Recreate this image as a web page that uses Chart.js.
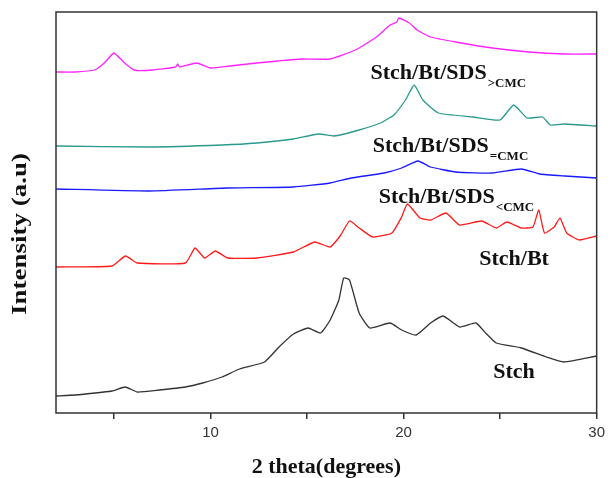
<!DOCTYPE html>
<html>
<head>
<meta charset="utf-8">
<script src="https://cdn.jsdelivr.net/npm/chart.js@4.4.1/dist/chart.umd.min.js"></script>
<style>
  html, body { margin: 0; padding: 0; background: #fff; }
  canvas { display: block; }
</style>
</head>
<body>
<canvas id="xrdChart" width="610" height="478"></canvas>
<script>
// 2 theta (degrees) / relative intensity (a.u.)
const stchX = [2, 3.0, 4.9, 5.6, 6.2, 7.35, 8.7, 9.6, 10.6, 11.5, 12.8, 13.55, 14.3, 15.05, 15.7, 16.2, 16.65, 16.9, 17.2, 17.7, 18.25, 19.3, 19.9, 20.65, 21.4, 22.05, 22.9, 23.75, 24.2, 24.8, 26.1, 27.4, 28.3, 30];
const stchY = [0, 1, 5, 9, 4, 6, 9, 13, 19, 27, 34, 49, 62, 68, 63, 76, 96, 118, 116, 83, 68, 73, 66, 61, 73, 80, 69, 73, 64, 53, 48, 39, 34, 40];

const stchBtX = [2, 4.9, 5.6, 6.2, 8.7, 9.2, 9.7, 10.25, 10.9, 12.4, 14.3, 15.4, 16.2, 16.75, 17.2, 17.7, 18.4, 19.4, 19.9, 20.2, 20.85, 21.4, 22.2, 22.9, 24.05, 24.8, 25.35, 26.1, 26.7, 27.0, 27.3, 27.8, 28.1, 28.45, 29.1, 30];
const stchBtY = [0, 1, 11, 4, 4, 19, 9, 16, 9, 9, 15, 25, 20, 32, 46, 39, 30, 34, 50, 63, 49, 47, 54, 42, 46, 39, 45, 39, 40, 57, 34, 40, 49, 34, 27, 31];

const sdsLowX = [2, 6.8, 10.9, 14.3, 16.2, 17.3, 19.0, 19.9, 20.75, 21.4, 22.7, 24.6, 26.1, 27.05, 28.35, 30];
const sdsLowY = [0, -2, 1, 2, 6, 11, 16, 21, 28, 22, 17, 16, 20, 15, 13, 11];

const sdsEqX = [2, 6.8, 10.6, 12.4, 14.3, 15.6, 16.4, 17.7, 18.8, 19.5, 20.1, 20.55, 21.0, 21.8, 23.6, 25.0, 25.7, 26.4, 27.2, 27.6, 28.35, 30];
const sdsEqY = [0, -1, 1, 3, 7, 12, 10, 16, 23, 31, 46, 61, 46, 33, 29, 26, 41, 28, 29, 21, 22, 20];

const sdsHighX = [2, 3, 4, 4.5, 5.0, 5.5, 6.05, 7, 8.2, 8.3, 8.4, 9.3, 10.0, 11, 12.4, 13.5, 14.7, 16.2, 17.5, 18.6, 19.3, 19.65, 19.75, 20.3, 20.7, 21.4, 22.7, 24.6, 26.5, 28.35, 30];
const sdsHighY = [0, 0, 2, 9, 19, 10, 2, 2, 5, 8, 5, 9, 4, 6, 9, 11, 13, 13, 22, 35, 47, 50, 54, 49, 42, 35, 30, 24, 20, 18, 18];

// vertical stacking offsets of each pattern
const seriesOffsets = [17, 146, 224, 267, 341];
const seriesColors = ["#333333", "#ff1a1a", "#1a1aff", "#2a9a8e", "#ff22ff"];
const xTickLabels = [10, 20, 30];

const seriesLabels = [
    { main: "Stch", sub: "", x: 24.64, y: 35 },
    { main: "Stch/Bt", sub: "", x: 23.92, y: 148 },
    { main: "Stch/Bt/SDS", sub: "<CMC", x: 18.71, y: 210 },
    { main: "Stch/Bt/SDS", sub: "=CMC", x: 18.4, y: 261 },
    { main: "Stch/Bt/SDS", sub: ">CMC", x: 18.29, y: 334 }
];

const allX = [stchX, stchBtX, sdsLowX, sdsEqX, sdsHighX];
const allY = [stchY, stchBtY, sdsLowY, sdsEqY, sdsHighY];

const datasets = allX.map((xs, i) => ({
    label: seriesLabels[i].main + seriesLabels[i].sub,
    data: xs.map((x, j) => ({ x, y: allY[i][j] + seriesOffsets[i] })),
    borderColor: seriesColors[i],
    borderWidth: 1.3,
    pointRadius: 0,
    tension: 0.15,
    fill: false
}));

const serif = "'Liberation Serif', 'Times New Roman', serif";

const framePlugin = {
    id: "frame",
    afterDatasetsDraw(chart) {
        const { ctx, chartArea: a, scales } = chart;
        ctx.save();
        ctx.strokeStyle = "#333";
        ctx.lineWidth = 1.5;
        ctx.strokeRect(a.left, a.top, a.right - a.left, a.bottom - a.top);

        ctx.fillStyle = "#111";
        ctx.textBaseline = "alphabetic";
        ctx.textAlign = "left";
        seriesLabels.forEach(lbl => {
            const px = scales.x.getPixelForValue(lbl.x);
            const py = scales.y.getPixelForValue(lbl.y);
            ctx.font = "bold 22px " + serif;
            ctx.fillText(lbl.main, px, py);
            if (lbl.sub) {
                const w = ctx.measureText(lbl.main).width;
                ctx.font = "bold 13px " + serif;
                ctx.fillText(lbl.sub, px + w + 1, py + 8);
            }
        });

        // y axis title, stretched along its length like the original
        ctx.font = "bold 22px " + serif;
        const title = "Intensity (a.u)";
        const tw = ctx.measureText(title).width;
        ctx.translate(20, 234);
        ctx.rotate(-Math.PI / 2);
        ctx.scale(162 / tw, 1);
        ctx.textAlign = "center";
        ctx.textBaseline = "middle";
        ctx.fillText(title, 0, 0);
        ctx.restore();
    }
};

new Chart(document.getElementById("xrdChart"), {
    type: "line",
    data: { datasets },
    options: {
        responsive: false,
        animation: false,
        devicePixelRatio: 1,
        layout: { padding: { top: 12, right: 11, left: 0, bottom: 0 } },
        plugins: {
            legend: { display: false },
            tooltip: { enabled: false }
        },
        scales: {
            x: {
                type: "linear",
                min: 2,
                max: 30,
                border: { display: false },
                grid: {
                    display: true,
                    drawOnChartArea: false,
                    drawTicks: true,
                    tickLength: 6,
                    color: "#333",
                    lineWidth: 1.5
                },
                ticks: {
                    stepSize: 5,
                    includeBounds: false,
                    autoSkip: false,
                    maxRotation: 0,
                    padding: 5,
                    color: "#333",
                    font: { family: "'Liberation Sans', Arial, sans-serif", size: 15 },
                    callback: v => (xTickLabels.includes(v) ? String(v) : "")
                },
                title: {
                    display: true,
                    text: "2 theta(degrees)",
                    color: "#111",
                    padding: { top: 0, bottom: 0 },
                    font: { family: serif, size: 22, weight: "bold", lineHeight: 1 }
                },
                afterFit: scale => { scale.height = 65; }
            },
            y: {
                min: 0,
                max: 401,
                border: { display: false },
                grid: { display: false },
                ticks: { display: false },
                afterFit: scale => { scale.width = 56; }
            }
        }
    },
    plugins: [framePlugin]
});
</script>
</body>
</html>
